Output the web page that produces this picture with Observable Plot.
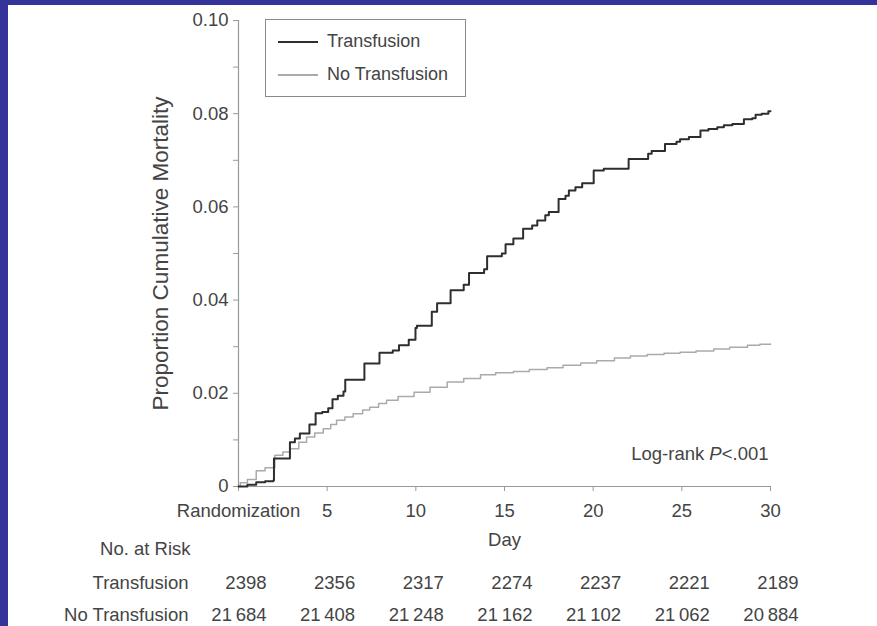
<!DOCTYPE html>
<html><head><meta charset="utf-8">
<script src="https://cdn.jsdelivr.net/npm/d3@7"></script>
<script src="https://cdn.jsdelivr.net/npm/@observablehq/plot@0.6"></script>
<style>
html,body{margin:0;padding:0;background:#fff;}
#wrap{position:relative;width:877px;height:626px;overflow:hidden;background:#fff;font-family:"Liberation Sans",Arial,sans-serif;}
#topbar{position:absolute;left:0;top:0;width:877px;height:5px;background:#343399;z-index:5;}
#leftbar{position:absolute;left:0;top:0;width:8px;height:626px;background:#343399;z-index:5;}
#legend{position:absolute;left:265px;top:19px;width:201px;height:78px;border:1px solid #8a8a8a;box-sizing:border-box;z-index:4;}
.li{position:absolute;left:0;font-size:18px;color:#444;}
.li .sw{position:absolute;left:12px;width:40px;}
.li .lab{position:absolute;left:61px;white-space:nowrap;line-height:20px;}
#chart{position:absolute;left:0;top:0;}
</style></head>
<body>
<div id="wrap">
  <div id="chart"></div>
  <div id="legend">
    <div class="li" style="top:11px"><div class="sw" style="top:10px;height:2px;background:#2e2e2e"></div><div class="lab" id="lg0"></div></div>
    <div class="li" style="top:44px"><div class="sw" style="top:10px;height:1.5px;background:#aaa"></div><div class="lab" id="lg1"></div></div>
  </div>
  <div id="topbar"></div>
  <div id="leftbar"></div>
</div>
<script>
// ---- data ----
const seriesNames = ["Transfusion", "No Transfusion"];
const transfusionDay = [0,0.5,1.0,1.5,1.96,2.0,2.9,3.18,3.46,4.0,4.35,4.72,5.06,5.3,5.6,5.92,6.02,7.1,7.95,8.7,9.05,9.6,9.98,10.06,10.9,11.2,11.96,12.7,13.0,13.85,14.02,14.85,15.06,15.5,16.05,16.56,16.85,17.3,17.5,18.05,18.44,18.63,19.0,19.38,20.03,20.6,22.0,23.1,23.3,24.05,24.7,24.9,25.4,26.05,26.5,27.0,27.37,27.85,28.5,28.97,29.16,29.5,29.88,30];
const transfusionProp = [0,0.0004,0.0009,0.0011,0.0013,0.006,0.0095,0.0103,0.0114,0.0133,0.0157,0.016,0.0168,0.0187,0.0195,0.0204,0.0229,0.0264,0.0287,0.0292,0.0303,0.0315,0.034,0.0345,0.0375,0.0393,0.0421,0.0433,0.0458,0.0466,0.0494,0.05,0.052,0.0532,0.0553,0.056,0.0571,0.0582,0.0589,0.0617,0.0624,0.0635,0.0642,0.0651,0.0678,0.0682,0.0703,0.0714,0.072,0.0735,0.074,0.0745,0.075,0.0764,0.0767,0.0771,0.0775,0.0778,0.0788,0.079,0.0798,0.08,0.0805,0.0805];
const noTransfusionDay = [0,0.1,0.5,1.0,1.5,2.05,2.5,2.9,3.4,3.84,4.3,4.78,5.2,5.53,6.0,6.47,7.0,7.4,7.9,8.35,9.0,9.9,10.8,11.77,12.7,13.65,14.5,15.5,16.4,17.4,18.3,19.3,20.2,21.2,22.1,23.05,24.0,24.9,25.8,26.8,27.7,28.7,29.4,30];
const noTransfusionProp = [0,0.0008,0.0015,0.0034,0.004,0.0067,0.0074,0.0081,0.0095,0.0106,0.0115,0.0124,0.0133,0.0142,0.0149,0.0156,0.0164,0.017,0.0178,0.0185,0.0193,0.0202,0.0213,0.0224,0.0232,0.024,0.0244,0.0247,0.0251,0.0255,0.026,0.0265,0.027,0.0276,0.028,0.0283,0.0286,0.0288,0.0291,0.0295,0.0299,0.0303,0.0305,0.0306];
const xTicks = [0,5,10,15,20,25,30];
const xTickLabels = ["Randomization","5","10","15","20","25","30"];
const yTicks = [0,0.01,0.02,0.03,0.04,0.05,0.06,0.07,0.08,0.09,0.10];
const yTickLabels = ["0","","0.02","","0.04","","0.06","","0.08","","0.10"];
const riskDays = [0,5,10,15,20,25,30];
const transfusionAtRisk = ["2398","2356","2317","2274","2237","2221","2189"];
const noTransfusionAtRisk = ["21\u2009684","21\u2009408","21\u2009248","21\u2009162","21\u2009102","21\u2009062","20\u2009884"];
const yLabel = "Proportion Cumulative Mortality";
const xLabel = "Day";
const riskHeader = "No. at Risk";
const logRankText = "Log-rank P<.001";

// ---- build ----
const tRows = transfusionDay.map((d,i)=>({day:d, p:transfusionProp[i]}));
const nRows = noTransfusionDay.map((d,i)=>({day:d, p:noTransfusionProp[i]}));
const xLab = new Map(xTicks.map((t,i)=>[t, xTickLabels[i]]));
const yLab = new Map(yTicks.map((t,i)=>[Math.round(t*100), yTickLabels[i]]));
const r1 = riskDays.map((d,i)=>({day:d, t:transfusionAtRisk[i]}));
const r2 = riskDays.map((d,i)=>({day:d, t:noTransfusionAtRisk[i]}));
const axisColor = "#999";
const textColor = "#444";

const chart = Plot.plot({
  width: 877, height: 626,
  marginLeft: 238, marginRight: 107, marginTop: 20, marginBottom: 140,
  x: {domain: [0, 30]},
  y: {domain: [0, 0.1]},
  style: {fontFamily: '"Liberation Sans", Arial, sans-serif', fontSize: "18.5px", color: textColor, background: "transparent", overflow: "visible"},
  marks: [
    Plot.axisX(xTicks, {tickSize: 5, tickPadding: 12, tickFormat: d => xLab.get(d), stroke: axisColor, fill: textColor, label: null}),
    Plot.axisY(yTicks, {tickSize: 5, tickPadding: 5, tickFormat: d => yLab.get(Math.round(d*100)), stroke: axisColor, fill: textColor, label: null}),
    Plot.ruleY([0], {stroke: axisColor, strokeWidth: 1.2}),
    Plot.ruleX([0], {stroke: axisColor, strokeWidth: 1.2}),
    Plot.line(nRows, {x: "day", y: "p", curve: "step-after", stroke: "#aaa", strokeWidth: 1.5}),
    Plot.line(tRows, {x: "day", y: "p", curve: "step-after", stroke: "#2e2e2e", strokeWidth: 2}),
    Plot.text([yLabel], {text: d => d, frameAnchor: "left", dx: -78, rotate: -90, textAnchor: "middle", fontSize: 22.5, fill: textColor}),
    Plot.text([xLabel], {x: [15], text: d => d, frameAnchor: "bottom", dy: 59, fill: textColor}),
    Plot.text([logRankText], {text: d => d, frameAnchor: "bottom-right", dx: -2, dy: -27, textAnchor: "end", fill: textColor}),
    Plot.text([riskHeader], {text: d => d, frameAnchor: "bottom-left", dx: -48, dy: 68, textAnchor: "end", fill: textColor}),
    Plot.text([seriesNames[0]], {text: d => d, frameAnchor: "bottom-left", dx: -50, dy: 102, textAnchor: "end", fill: textColor}),
    Plot.text([seriesNames[1]], {text: d => d, frameAnchor: "bottom-left", dx: -50, dy: 134, textAnchor: "end", fill: textColor}),
    Plot.text(r1, {x: "day", text: "t", frameAnchor: "bottom", dx: 28, dy: 102, textAnchor: "end", fill: textColor}),
    Plot.text(r2, {x: "day", text: "t", frameAnchor: "bottom", dx: 28, dy: 134, textAnchor: "end", fill: textColor})
  ]
});
document.getElementById("chart").appendChild(chart);
// italic P in log-rank text
d3.select(chart).selectAll("text").each(function(){
  if (this.textContent === logRankText) {
    const el = d3.select(this); el.text("");
    el.append("tspan").text("Log-rank ");
    el.append("tspan").attr("font-style","italic").text("P");
    el.append("tspan").text("<.001");
  }
});
document.getElementById("lg0").textContent = seriesNames[0];
document.getElementById("lg1").textContent = seriesNames[1];
</script>
</body></html>
